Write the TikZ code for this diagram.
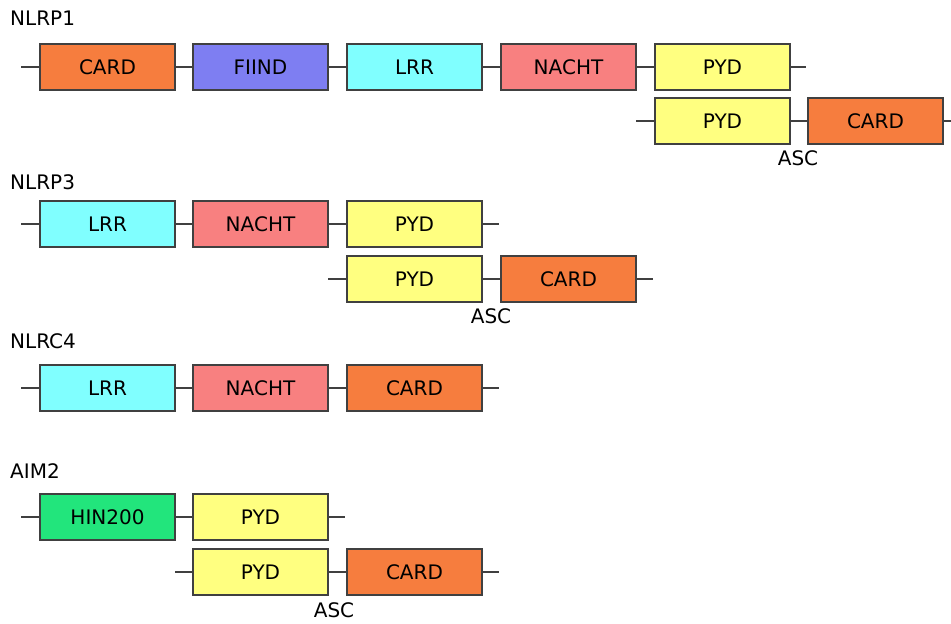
\documentclass[tikz,border=0pt]{standalone}
\usepackage{fontspec}
\setmainfont{DejaVu Sans}
\usepackage{tikz}
\usetikzlibrary{positioning}
\definecolor{cardorange}{HTML}{F67D3E}
\definecolor{fiindblue}{HTML}{7E7EF2}
\definecolor{lrrcyan}{HTML}{80FFFF}
\definecolor{nachtred}{HTML}{F88080}
\definecolor{pydyellow}{HTML}{FFFF80}
\definecolor{hingreen}{HTML}{22E57C}
\tikzset{
  dom/.style={draw=black!75, line width=1.1pt, minimum width=135pt, minimum height=46pt,
    inner sep=0pt, font=\fontsize{20}{20}\selectfont},
  card/.style={dom, fill=cardorange},
  fiind/.style={dom, fill=fiindblue},
  lrr/.style={dom, fill=lrrcyan},
  nacht/.style={dom, fill=nachtred},
  pyd/.style={dom, fill=pydyellow},
  hin/.style={dom, fill=hingreen},
  prot/.style={anchor=west, inner sep=0pt, font=\fontsize{20}{20}\selectfont},
  asc/.style={inner sep=0pt, font=\fontsize{20}{20}\selectfont},
  link/.style={draw=black!75, line width=1.1pt}
}
\begin{document}
\begin{tikzpicture}[x=1pt, y=-1pt]
  \useasboundingbox (0,0) rectangle (951,624);

  % NLRP1
  \node[prot] (nlrp1) at (10,18) {NLRP1};
  \coordinate (nlrp1l) at (21,67);
  \node[card] (nlrp1card) at (107.5,67) {CARD};
  \node[fiind] (nlrp1fiind) at (260.5,67) {FIIND};
  \node[lrr] (nlrp1lrr) at (414.5,67) {LRR};
  \node[nacht] (nlrp1nacht) at (568.5,67) {NACHT};
  \node[pyd] (nlrp1pyd) at (722.5,67) {PYD};
  \coordinate (nlrp1r) at (806,67);
  \draw[link] (nlrp1l) -- (nlrp1card) -- (nlrp1fiind) -- (nlrp1lrr) -- (nlrp1nacht) -- (nlrp1pyd) -- (nlrp1r);
  \coordinate (asc1l) at (636,121);
  \node[pyd] (asc1pyd) at (722.5,121) {PYD};
  \node[card] (asc1card) at (875.5,121) {CARD};
  \coordinate (asc1r) at (955,121);
  \draw[link] (asc1l) -- (asc1pyd) -- (asc1card) -- (asc1r);
  \node[asc] (asc1) at (798,158) {ASC};

  % NLRP3
  \node[prot] (nlrp3) at (10,182) {NLRP3};
  \coordinate (nlrp3l) at (21,224);
  \node[lrr] (nlrp3lrr) at (107.5,224) {LRR};
  \node[nacht] (nlrp3nacht) at (260.5,224) {NACHT};
  \node[pyd] (nlrp3pyd) at (414.5,224) {PYD};
  \coordinate (nlrp3r) at (499,224);
  \draw[link] (nlrp3l) -- (nlrp3lrr) -- (nlrp3nacht) -- (nlrp3pyd) -- (nlrp3r);
  \coordinate (asc3l) at (328,279);
  \node[pyd] (asc3pyd) at (414.5,279) {PYD};
  \node[card] (asc3card) at (568.5,279) {CARD};
  \coordinate (asc3r) at (653,279);
  \draw[link] (asc3l) -- (asc3pyd) -- (asc3card) -- (asc3r);
  \node[asc] (asc3) at (491,316) {ASC};

  % NLRC4
  \node[prot] (nlrc4) at (10,341) {NLRC4};
  \coordinate (nlrc4l) at (21,388);
  \node[lrr] (nlrc4lrr) at (107.5,388) {LRR};
  \node[nacht] (nlrc4nacht) at (260.5,388) {NACHT};
  \node[card] (nlrc4card) at (414.5,388) {CARD};
  \coordinate (nlrc4r) at (499,388);
  \draw[link] (nlrc4l) -- (nlrc4lrr) -- (nlrc4nacht) -- (nlrc4card) -- (nlrc4r);

  % AIM2
  \node[prot] (aim2) at (10,471) {AIM2};
  \coordinate (aim2l) at (21,517);
  \node[hin] (aim2hin) at (107.5,517) {HIN200};
  \node[pyd] (aim2pyd) at (260.5,517) {PYD};
  \coordinate (aim2r) at (345,517);
  \draw[link] (aim2l) -- (aim2hin) -- (aim2pyd) -- (aim2r);
  \coordinate (ascal) at (175,572);
  \node[pyd] (ascapyd) at (260.5,572) {PYD};
  \node[card] (ascacard) at (414.5,572) {CARD};
  \coordinate (ascar) at (499,572);
  \draw[link] (ascal) -- (ascapyd) -- (ascacard) -- (ascar);
  \node[asc] (asca) at (334,610) {ASC};
\end{tikzpicture}
\end{document}
